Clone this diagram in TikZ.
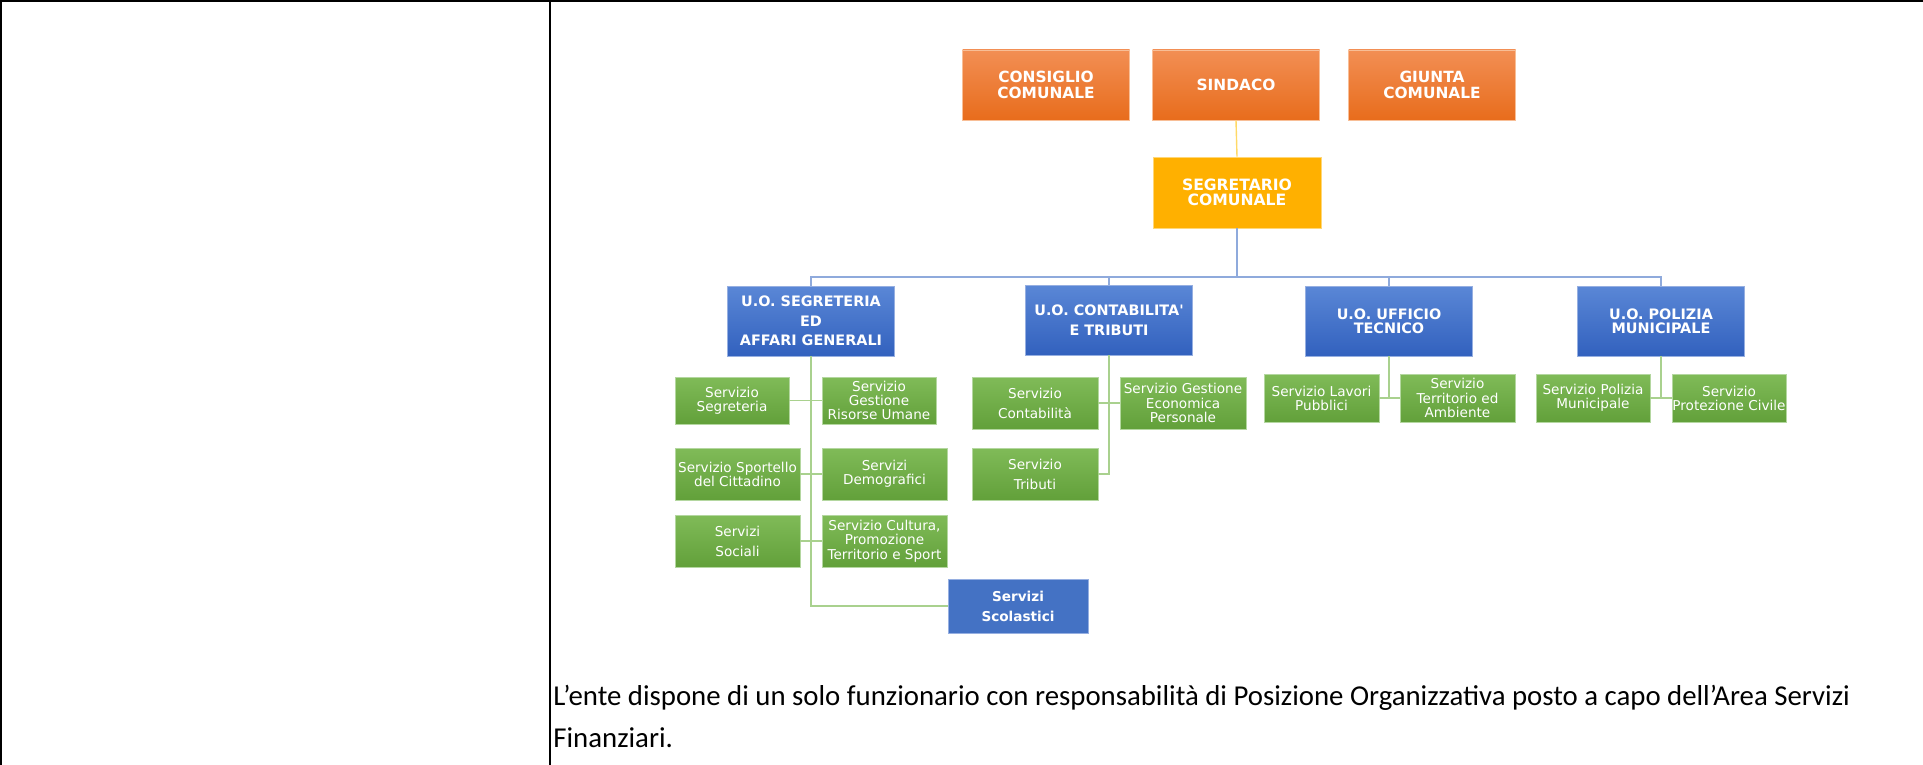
\documentclass[tikz,border=0pt]{standalone}
\usepackage{fontspec}
\newfontfamily\verd{DejaVu Sans}
\newfontfamily\calib{Carlito}
\definecolor{orT}{RGB}{242,143,84}
\definecolor{orB}{RGB}{232,108,28}
\definecolor{orD}{RGB}{248,190,150}
\definecolor{goldF}{RGB}{255,176,0}
\definecolor{goldD}{RGB}{255,215,120}
\definecolor{blT}{RGB}{90,135,214}
\definecolor{blB}{RGB}{50,97,190}
\definecolor{blD}{RGB}{150,175,225}
\definecolor{blS}{RGB}{68,114,196}
\definecolor{grT}{RGB}{128,187,88}
\definecolor{grB}{RGB}{98,160,58}
\definecolor{grD}{RGB}{180,215,160}
\definecolor{busC}{RGB}{143,170,220}
\definecolor{grL}{RGB}{169,209,142}
\definecolor{yeL}{RGB}{255,217,102}
\begin{document}
\begin{tikzpicture}[x=0.5pt,y=-0.5pt,
  frameline/.style={draw=black,line width=1pt},
  basebox/.style={rectangle,inner sep=0pt,align=center,text=white,line width=0.4pt},
  topbox/.style={basebox,draw=orD,top color=orT,bottom color=orB,
    font=\verd\bfseries\fontsize{7.7}{7.9}\selectfont,minimum width=83.5pt,minimum height=35pt},
  segbox/.style={basebox,draw=goldD,fill=goldF,
    font=\verd\bfseries\fontsize{7.8}{7.8}\selectfont,minimum width=84pt,minimum height=35.5pt},
  uobox/.style={basebox,draw=blD,top color=blT,bottom color=blB,
    minimum width=83.5pt,minimum height=35pt},
  uofont/.style={font=\verd\bfseries\fontsize{7.2}{#1}\selectfont},
  grbox/.style={basebox,draw=grD,top color=grT,bottom color=grB},
  grfont/.style={font=\verd\fontsize{6.8}{#1}\selectfont},
  scbox/.style={basebox,draw=blD,fill=blS,font=\verd\bfseries\fontsize{6.8}{10}\selectfont,
    minimum width=70pt,minimum height=27pt},
  busline/.style={draw=busC,line width=0.7pt},
  gline/.style={draw=grL,line width=0.7pt},
  yline/.style={draw=yeL,line width=0.7pt},
  para/.style={anchor=base west,inner sep=0pt,font=\calib\fontsize{14.4}{17}\selectfont}]
\useasboundingbox (0,0) rectangle (1923,765);
% frame
\draw[frameline] (0,1) -- (1923,1);
\draw[frameline] (1,0) -- (1,765);
\draw[frameline] (550,0) -- (550,765);

% top row
\node[topbox] (cons) at (1046,85) {CONSIGLIO\\COMUNALE};
\node[topbox] (sind) at (1236,85) {SINDACO};
\node[topbox] (giun) at (1432,85) {GIUNTA\\COMUNALE};
\node[segbox] (segr) at (1237,192.5) {SEGRETARIO\\COMUNALE};

% units
\node[uobox,uofont=9.75] (uoseg) at (811,321) {U.O. SEGRETERIA\\ED\\AFFARI GENERALI};
\node[uobox,uofont=10] (uocont) at (1109,320) {U.O. CONTABILITA'\\E TRIBUTI};
\node[uobox,uofont=7.2] (uouff) at (1389,321) {U.O. UFFICIO\\TECNICO};
\node[uobox,uofont=7.2] (uopol) at (1661,321) {U.O. POLIZIA\\MUNICIPALE};

% segreteria services
\node[grbox,grfont=7.1,minimum width=57pt,minimum height=23.5pt] (sseg) at (732,400.5) {Servizio\\Segreteria};
\node[grbox,grfont=7.1,minimum width=57pt,minimum height=23.5pt] (sgru) at (879,400.5) {Servizio\\Gestione\\Risorse Umane};
\node[grbox,grfont=7.0,minimum width=62.5pt,minimum height=26pt] (sspo) at (737.5,474) {Servizio Sportello\\del Cittadino};
\node[grbox,grfont=7.1,minimum width=62.5pt,minimum height=26pt] (sdem) at (884.5,474) {Servizi\\Demografici};
\node[grbox,grfont=10,minimum width=62.5pt,minimum height=26pt] (ssoc) at (737.5,541) {Servizi\\Sociali};
\node[grbox,grfont=7.3,minimum width=62.5pt,minimum height=26pt] (scul) at (884.5,541) {Servizio Cultura,\\Promozione\\Territorio e Sport};
\node[scbox] (scol) at (1018,606) {Servizi\\Scolastici};

% contabilita services
\node[grbox,grfont=10,minimum width=63pt,minimum height=26pt] (scon) at (1035,403) {Servizio\\Contabilità};
\node[grbox,grfont=7.2,minimum width=63pt,minimum height=26pt] (sgep) at (1183,403) {Servizio Gestione\\Economica\\Personale};
\node[grbox,grfont=10,minimum width=63pt,minimum height=26pt] (strb) at (1035,474) {Servizio\\Tributi};

% ufficio tecnico services
\node[grbox,grfont=7.0,minimum width=57.5pt,minimum height=24pt] (slav) at (1321.5,398) {Servizio Lavori\\Pubblici};
\node[grbox,grfont=7.1,minimum width=57.5pt,minimum height=24pt] (ster) at (1457.5,398) {Servizio\\Territorio ed\\Ambiente};

% polizia services
\node[grbox,grfont=7.0,minimum width=57pt,minimum height=24pt] (spm) at (1593,398) {Servizio Polizia\\Municipale};
\node[grbox,grfont=7.0,minimum width=57pt,minimum height=24pt] (spc) at (1729,398) {Servizio\\Protezione Civile};

% connectors
\coordinate (busc) at (1237,277);
\draw[yline] (sind.south) -- (segr.north);
\draw[busline] (segr.south) -- (busc);
\draw[busline] (uoseg.north) |- (busc) -| (uopol.north);
\draw[busline] (uocont.north) -- (uocont.north |- busc);
\draw[busline] (uouff.north) -- (uouff.north |- busc);

\draw[gline] (uoseg.south) |- (scol.west);
\draw[gline] (sseg.east) -- (sgru.west);
\draw[gline] (sspo.east) -- (sdem.west);
\draw[gline] (ssoc.east) -- (scul.west);

\draw[gline] (uocont.south) |- (strb.east);
\draw[gline] (scon.east) -- (sgep.west);

\draw[gline] (uouff.south) -- (uouff.south |- slav.east);
\draw[gline] (slav.east) -- (ster.west);
\draw[gline] (uopol.south) -- (uopol.south |- spm.east);
\draw[gline] (spm.east) -- (spc.west);

% paragraph
\node[para] (p1) at (553,705) {L’ente dispone di un solo funzionario con responsabilità di Posizione Organizzativa posto a capo dell’Area Servizi};
\node[para] (p2) at (553,747) {Finanziari.};
\end{tikzpicture}
\end{document}
